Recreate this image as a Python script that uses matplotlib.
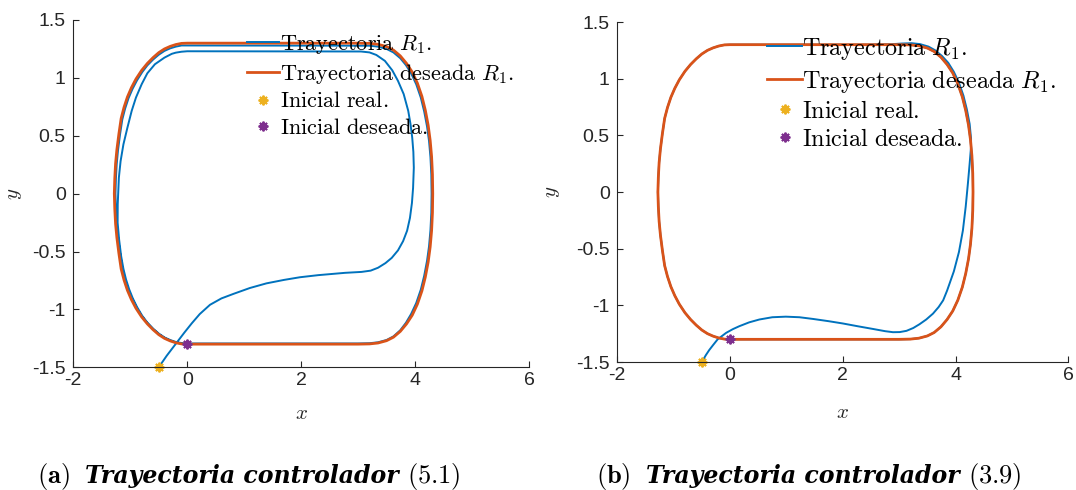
import numpy as np
import matplotlib
matplotlib.use('Agg')
import matplotlib.pyplot as plt
from matplotlib.offsetbox import TextArea, HPacker, AnchoredOffsetbox

plt.rcParams['font.family'] = ['Liberation Sans', 'DejaVu Sans']
plt.rcParams['mathtext.fontset'] = 'cm'
plt.rcParams['axes.unicode_minus'] = False

# desired trajectory R1 (closed loop, counter-clockwise from the initial point)
des = [(0.00, -1.30), (3.00, -1.30),
       (3.20, -1.298), (3.35, -1.29), (3.50, -1.27), (3.62, -1.24), (3.74, -1.19), (3.85, -1.125),
       (3.95, -1.05), (4.04, -0.955), (4.12, -0.84), (4.18, -0.72), (4.23, -0.59), (4.265, -0.46),
       (4.29, -0.32), (4.305, -0.165), (4.31, 0.0),
       (4.305, 0.165), (4.29, 0.32), (4.265, 0.46), (4.23, 0.59), (4.18, 0.72), (4.12, 0.84),
       (4.04, 0.955), (3.95, 1.05), (3.85, 1.125), (3.74, 1.19), (3.62, 1.24), (3.50, 1.27),
       (3.35, 1.29), (3.20, 1.298), (3.00, 1.30), (0.00, 1.30),
       (-0.10, 1.298), (-0.20, 1.288), (-0.30, 1.272), (-0.40, 1.25), (-0.50, 1.218), (-0.60, 1.175),
       (-0.70, 1.125), (-0.80, 1.065), (-0.90, 0.99), (-0.98, 0.915), (-1.05, 0.835), (-1.11, 0.745),
       (-1.16, 0.65), (-1.20, 0.515), (-1.235, 0.38), (-1.258, 0.26), (-1.272, 0.13), (-1.28, 0.0),
       (-1.272, -0.13), (-1.258, -0.26), (-1.235, -0.38), (-1.20, -0.515), (-1.16, -0.65), (-1.11, -0.745),
       (-1.05, -0.835), (-0.98, -0.915), (-0.90, -0.99), (-0.80, -1.065), (-0.70, -1.125), (-0.60, -1.175),
       (-0.50, -1.218), (-0.40, -1.25), (-0.30, -1.272), (-0.20, -1.288), (-0.10, -1.298), (0.00, -1.30)]

# real trajectory, controller (5.1)
real_a = [(-0.50, -1.50), (-0.36, -1.40), (-0.19, -1.29), (-0.05, -1.20), (0.08, -1.12), (0.22, -1.04),
          (0.40, -0.96), (0.60, -0.905), (0.81, -0.866), (1.10, -0.815), (1.39, -0.775), (1.70, -0.745),
          (1.98, -0.722), (2.30, -0.704), (2.56, -0.693), (2.77, -0.684), (3.06, -0.676), (3.22, -0.665),
          (3.35, -0.64), (3.48, -0.60), (3.59, -0.555), (3.70, -0.49), (3.79, -0.41), (3.86, -0.32),
          (3.91, -0.21), (3.945, -0.08), (3.965, 0.05), (3.978, 0.224), (3.97, 0.36), (3.95, 0.484),
          (3.92, 0.60), (3.88, 0.715), (3.80, 0.86), (3.70, 0.974), (3.60, 1.065), (3.47, 1.147),
          (3.32, 1.198), (3.20, 1.22), (3.05, 1.228), (0.00, 1.23),
          (-0.10, 1.226), (-0.20, 1.218), (-0.27, 1.208), (-0.40, 1.175), (-0.567, 1.118), (-0.70, 1.04),
          (-0.80, 0.945), (-0.90, 0.83), (-0.975, 0.715), (-1.05, 0.57), (-1.12, 0.426), (-1.17, 0.28),
          (-1.20, 0.138), (-1.22, -0.09), (-1.222, -0.25), (-1.195, -0.40), (-1.16, -0.54), (-1.12, -0.65),
          (-1.075, -0.74), (-1.02, -0.825), (-0.955, -0.905), (-0.88, -0.98), (-0.79, -1.055),
          (-0.695, -1.117), (-0.595, -1.168), (-0.495, -1.21), (-0.395, -1.243), (-0.295, -1.265),
          (-0.195, -1.282), (-0.095, -1.291), (0.00, -1.294), (3.00, -1.294),
          (3.20, -1.292), (3.35, -1.284), (3.50, -1.264), (3.62, -1.233), (3.74, -1.18), (3.84, -1.115),
          (3.93, -1.04), (4.02, -0.945), (4.10, -0.83), (4.16, -0.71), (4.21, -0.58), (4.245, -0.455),
          (4.27, -0.315), (4.285, -0.165), (4.29, 0.0),
          (4.285, 0.165), (4.27, 0.315), (4.245, 0.455), (4.21, 0.58), (4.16, 0.71), (4.10, 0.83),
          (4.02, 0.945), (3.93, 1.04), (3.84, 1.11), (3.74, 1.17), (3.62, 1.22), (3.50, 1.25),
          (3.35, 1.27), (3.20, 1.278), (0.00, 1.28),
          (-0.10, 1.28), (-0.20, 1.27), (-0.30, 1.255), (-0.40, 1.233), (-0.50, 1.20), (-0.60, 1.158),
          (-0.70, 1.108), (-0.79, 1.05), (-0.88, 0.98), (-0.96, 0.905), (-1.03, 0.825), (-1.09, 0.735),
          (-1.14, 0.64), (-1.18, 0.51), (-1.215, 0.375), (-1.238, 0.255), (-1.252, 0.13), (-1.26, 0.0),
          (-1.252, -0.13), (-1.238, -0.255), (-1.215, -0.375), (-1.18, -0.51), (-1.14, -0.64),
          (-1.09, -0.74), (-1.035, -0.83), (-0.965, -0.91), (-0.89, -0.985), (-0.795, -1.06),
          (-0.695, -1.12), (-0.595, -1.172), (-0.495, -1.215), (-0.395, -1.248), (-0.295, -1.27),
          (-0.195, -1.287), (-0.095, -1.297), (0.00, -1.30)]

# real trajectory, controller (3.9): transient, then it follows the desired loop
real_b = [(-0.50, -1.50), (-0.43, -1.44), (-0.37, -1.395), (-0.30, -1.35), (-0.22, -1.30), (-0.07, -1.243),
          (0.05, -1.21), (0.165, -1.184), (0.34, -1.15), (0.52, -1.125), (0.75, -1.105), (0.99, -1.10),
          (1.23, -1.105), (1.47, -1.12), (1.75, -1.14), (2.00, -1.16), (2.27, -1.185), (2.53, -1.208),
          (2.75, -1.228), (2.89, -1.237), (3.01, -1.236), (3.13, -1.225), (3.25, -1.20), (3.36, -1.167),
          (3.48, -1.125), (3.60, -1.073), (3.70, -1.015), (3.78, -0.956), (3.85, -0.87), (3.97, -0.70),
          (4.06, -0.53), (4.13, -0.34), (4.18, -0.13), (4.22, 0.08), (4.25, 0.25), (4.275, 0.40),
          (4.275, 0.47), (4.25, 0.60), (4.20, 0.73), (4.14, 0.85), (4.06, 0.965), (3.97, 1.06),
          (3.87, 1.14), (3.76, 1.20), (3.64, 1.25), (3.52, 1.283), (3.37, 1.305), (3.22, 1.313),
          (3.05, 1.31), (2.80, 1.302), (2.50, 1.30)]

x0, y0 = [-0.5], [-1.5]      # inicial real
xd0, yd0 = [0.0], [-1.3]     # inicial deseada

xticks = [-2, 0, 2, 4, 6]
yticks = [-1.5, -1, -0.5, 0, 0.5, 1, 1.5]
ytick_labels = ['-1.5', '-1', '-0.5', '0', '0.5', '1', '1.5']

labels = [r'$\mathrm{Trayectoria}\ R_1.$', r'$\mathrm{Trayectoria\ deseada}\ R_1.$',
          r'$\mathrm{Inicial\ real.}$', r'$\mathrm{Inicial\ deseada.}$']
captions = [('(a)', '(5.1)'), ('(b)', '(3.9)')]

c_blue = '#0072BD'
c_orange = '#D95319'
c_yellow = '#EDB120'
c_purple = '#7E2F8E'
ast = (8, 2, 0)

W, H = 1076, 490
fig = plt.figure(figsize=(W / 100, H / 100), dpi=100)

# axes boxes in pixels: left, right, top, bottom
boxes = [(73.3, 529.0, 20.0, 367.3), (617.3, 1068.3, 22.0, 362.0)]
leg_pos = [(0.3805, 0.962), (0.3326, 0.960)]
leg_fs = [16, 17.4]
leg_pad = [0.06, 0.0]
xlab_pos = [-0.132, -0.150]
ylab_pos = [-0.128, -0.143]
cap_pos = [(249, 476), (809, 476)]

des = np.array(des)
for i, real in enumerate([real_a, real_b]):
    l, r, t, b = boxes[i]
    ax = fig.add_axes([l / W, 1 - b / H, (r - l) / W, (b - t) / H])
    real = np.array(real)
    ax.plot(real[:, 0], real[:, 1], color=c_blue, lw=1.4, label=labels[0])
    if i == 1:
        ax.plot(des[:, 0], des[:, 1], color=c_blue, lw=1.4)
    ax.plot(des[:, 0], des[:, 1], color=c_orange, lw=2.0, label=labels[1])
    ax.plot(x0, y0, ls='none', marker=ast, ms=7, mew=1.4, color=c_yellow, label=labels[2], clip_on=False)
    ax.plot(xd0, yd0, ls='none', marker=ast, ms=7, mew=1.4, color=c_purple, label=labels[3], clip_on=False)

    ax.set_xlim(-2, 6)
    ax.set_ylim(-1.5, 1.5)
    ax.set_xticks(xticks)
    ax.set_xticklabels([str(v) for v in xticks])
    ax.set_yticks(yticks)
    ax.set_yticklabels(ytick_labels)
    for s in ['top', 'right']:
        ax.spines[s].set_visible(False)
    for s in ['left', 'bottom']:
        ax.spines[s].set_color('#262626')
        ax.spines[s].set_linewidth(0.8)
    ax.tick_params(direction='in', length=4, width=0.8, colors='#262626', labelsize=14)
    ax.tick_params(axis='x', pad=3.5)
    ax.tick_params(axis='y', pad=5.5)

    ax.set_xlabel(r'$x$', fontsize=15, color='#262626', va='center')
    ax.xaxis.set_label_coords(0.5, xlab_pos[i])
    ax.set_ylabel(r'$y$', fontsize=15, color='#262626', va='center')
    ax.yaxis.set_label_coords(ylab_pos[i], 0.5)

    ax.legend(loc='upper left', bbox_to_anchor=leg_pos[i], frameon=False, fontsize=leg_fs[i],
              borderpad=0, borderaxespad=0, handlelength=1.45, handletextpad=leg_pad[i], labelspacing=0.25)

    fs = 19
    lead = HPacker(children=[TextArea(r'$\mathbf{' + captions[i][0] + '}$', textprops=dict(fontsize=fs)),
                             TextArea('Trayectoria controlador',
                                      textprops=dict(family='DejaVu Serif', weight='bold',
                                                     style='italic', fontsize=17))],
                   align='baseline', pad=0, sep=11)
    pack = HPacker(children=[lead, TextArea(r'$' + captions[i][1] + '$', textprops=dict(fontsize=fs))],
                   align='baseline', pad=0, sep=6)
    cx, cy = cap_pos[i]
    anch = AnchoredOffsetbox(loc='center', child=pack, frameon=False, pad=0, borderpad=0,
                             bbox_to_anchor=(cx / W, 1 - cy / H), bbox_transform=fig.transFigure)
    fig.add_artist(anch)

fig.savefig('out.png', dpi=100)
